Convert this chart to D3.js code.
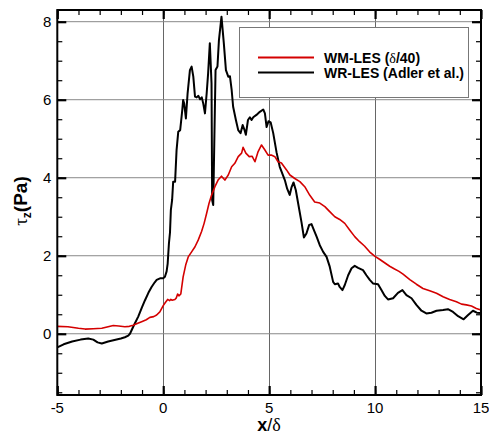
<!DOCTYPE html>
<html>
<head>
<meta charset="utf-8">
<script src="https://cdn.jsdelivr.net/npm/d3@7"></script>
<style>
  html, body { margin: 0; padding: 0; background: #fff; }
  svg { display: block; font-family: "Liberation Sans", Arial, sans-serif; }
</style>
</head>
<body>
<svg id="chart" width="489" height="434"></svg>
<script>
// Spanwise wall shear stress along the streamwise coordinate
const wmX = [-5, -4.5, -4.0, -3.69, -3.3, -2.9, -2.6, -2.36, -2.1, -1.81, -1.6, -1.42, -1.2, -1.02, -0.8, -0.63, -0.45, -0.31, -0.16, 0.0, 0.1, 0.21, 0.3, 0.36, 0.42, 0.55, 0.62, 0.68, 0.74, 0.83, 0.94, 1.06, 1.18, 1.34, 1.5, 1.65, 1.81, 1.93, 2.05, 2.16, 2.28, 2.44, 2.6, 2.75, 2.91, 3.07, 3.23, 3.38, 3.54, 3.7, 3.77, 3.9, 4.06, 4.2, 4.33, 4.48, 4.64, 4.8, 4.95, 5.1, 5.27, 5.42, 5.58, 5.82, 5.98, 6.21, 6.45, 6.68, 6.92, 7.15, 7.39, 7.63, 7.86, 8.1, 8.33, 8.57, 8.8, 9.04, 9.27, 9.5, 9.74, 9.98, 10.21, 10.45, 10.69, 10.92, 11.13, 11.32, 11.64, 11.95, 12.26, 12.58, 12.9, 13.21, 13.52, 13.84, 14.08, 14.31, 14.55, 14.78, 15.0];
const wmTau = [0.19, 0.18, 0.14, 0.12, 0.13, 0.14, 0.18, 0.21, 0.2, 0.18, 0.19, 0.22, 0.27, 0.31, 0.36, 0.42, 0.44, 0.48, 0.56, 0.72, 0.8, 0.88, 0.85, 0.88, 0.86, 0.88, 0.92, 1.02, 0.97, 1.02, 1.46, 1.76, 1.97, 2.1, 2.23, 2.4, 2.62, 2.83, 3.09, 3.34, 3.55, 3.77, 3.95, 4.04, 3.94, 4.07, 4.28, 4.37, 4.54, 4.63, 4.78, 4.63, 4.54, 4.55, 4.41, 4.67, 4.84, 4.71, 4.58, 4.58, 4.54, 4.41, 4.38, 4.2, 4.07, 3.98, 3.9, 3.77, 3.55, 3.38, 3.35, 3.26, 3.13, 3.0, 2.93, 2.83, 2.66, 2.49, 2.36, 2.25, 2.1, 1.99, 1.91, 1.82, 1.73, 1.66, 1.6, 1.53, 1.39, 1.27, 1.16, 1.1, 1.04, 0.95, 0.88, 0.82, 0.76, 0.74, 0.71, 0.65, 0.61];

const wrX = [-5, -4.7, -4.3, -3.9, -3.54, -3.3, -3.1, -2.9, -2.6, -2.3, -2.0, -1.81, -1.65, -1.57, -1.4, -1.18, -1.0, -0.86, -0.7, -0.55, -0.4, -0.31, -0.15, 0.0, 0.08, 0.16, 0.21, 0.27, 0.32, 0.36, 0.42, 0.47, 0.56, 0.63, 0.71, 0.8, 0.9, 0.94, 0.99, 1.07, 1.15, 1.26, 1.34, 1.42, 1.5, 1.58, 1.66, 1.74, 1.82, 1.89, 1.97, 2.05, 2.12, 2.2, 2.28, 2.31, 2.36, 2.41, 2.47, 2.56, 2.63, 2.75, 2.86, 2.96, 3.07, 3.15, 3.23, 3.3, 3.43, 3.54, 3.65, 3.75, 3.84, 3.9, 4.0, 4.09, 4.17, 4.25, 4.4, 4.56, 4.72, 4.8, 4.88, 4.97, 5.07, 5.19, 5.35, 5.5, 5.74, 5.85, 5.97, 6.06, 6.15, 6.26, 6.37, 6.53, 6.64, 6.76, 6.89, 7.0, 7.08, 7.24, 7.39, 7.55, 7.71, 7.86, 8.02, 8.1, 8.25, 8.33, 8.46, 8.57, 8.73, 8.89, 9.04, 9.2, 9.43, 9.59, 9.75, 9.9, 10.14, 10.3, 10.46, 10.61, 10.85, 11.08, 11.29, 11.48, 11.72, 11.95, 12.19, 12.42, 12.66, 12.9, 13.21, 13.44, 13.68, 13.92, 14.18, 14.39, 14.62, 14.8, 15.0];
const wrTau = [-0.35, -0.27, -0.2, -0.15, -0.12, -0.15, -0.22, -0.25, -0.2, -0.16, -0.12, -0.09, -0.05, 0.0, 0.2, 0.44, 0.68, 0.86, 1.05, 1.2, 1.32, 1.38, 1.42, 1.42, 1.46, 1.6, 1.8, 2.32, 2.6, 3.17, 3.43, 3.9, 3.9, 4.71, 5.18, 5.22, 5.74, 5.99, 5.9, 5.52, 6.16, 6.76, 6.85, 6.59, 6.08, 6.06, 6.1, 6.01, 6.06, 5.9, 5.65, 6.16, 6.68, 7.45, 6.42, 3.43, 3.3, 4.88, 6.76, 6.85, 7.53, 8.13, 7.45, 6.76, 6.59, 6.6, 6.25, 5.82, 5.48, 5.22, 5.14, 5.35, 5.22, 5.1, 5.48, 5.55, 5.48, 5.55, 5.61, 5.69, 5.75, 5.65, 5.3, 5.45, 5.42, 5.15, 4.65, 4.28, 3.94, 3.72, 3.56, 3.76, 3.88, 3.68, 3.34, 2.85, 2.47, 2.57, 2.79, 2.81, 2.7, 2.49, 2.27, 2.1, 1.97, 1.72, 1.33, 1.27, 1.29, 1.2, 1.12, 1.25, 1.5, 1.68, 1.74, 1.69, 1.63, 1.5, 1.38, 1.29, 1.27, 1.12, 0.97, 0.88, 0.91, 1.05, 1.12, 0.99, 0.91, 0.74, 0.59, 0.52, 0.54, 0.59, 0.61, 0.63, 0.56, 0.45, 0.37, 0.48, 0.59, 0.54, 0.53];

const xMajorTicks = [-5, 0, 5, 10, 15];
const yMajorTicks = [0, 2, 4, 6, 8];
const xGridTicks = [0, 5, 10];
const yGridTicks = [0, 2, 4, 6, 8];
const legendLabels = ["WM-LES (", "WR-LES (Adler et al.)"];

const svg = d3.select("#chart");
const plotLeft = 57.3, plotRight = 481, plotTop = 10, plotBottom = 395;
const x = d3.scaleLinear().domain([-5, 15]).range([plotLeft, plotRight]);
const y = d3.scaleLinear().domain([-1.57, 8.3]).range([plotBottom, plotTop]);

// grid lines
const grid = svg.append("g");
grid.selectAll("line.gx").data(xGridTicks).enter().append("line")
  .attr("x1", d => Math.round(x(d)) + 0.5).attr("x2", d => Math.round(x(d)) + 0.5)
  .attr("y1", plotTop).attr("y2", plotBottom)
  .attr("stroke", "#666").attr("stroke-width", 1);
grid.selectAll("line.gy").data(yGridTicks).enter().append("line")
  .attr("x1", plotLeft).attr("x2", plotRight)
  .attr("y1", d => y(d)).attr("y2", d => y(d))
  .attr("stroke", "#888").attr("stroke-width", 1);

// curves
const line = d3.line().x(d => x(d[0])).y(d => y(d[1]));
svg.append("path").datum(wrX.map((v, i) => [v, wrTau[i]]))
  .attr("d", line).attr("fill", "none").attr("stroke", "#000")
  .attr("stroke-width", 2).attr("stroke-linejoin", "round");
svg.append("path").datum(wmX.map((v, i) => [v, wmTau[i]]))
  .attr("d", line).attr("fill", "none").attr("stroke", "#d40000")
  .attr("stroke-width", 1.6).attr("stroke-linejoin", "round");

// axes on all four sides, ticks pointing inward
const xMinor = d3.range(-5, 15.01, 1);
const yMinor = d3.range(-1.5, 8.01, 0.5);
const axes = svg.append("g");
function addAxis(axisFn, scale, values, size, transform, width) {
  axes.append("g").attr("transform", transform)
    .call(axisFn(scale).tickValues(values).tickSize(size).tickFormat(""))
    .call(g => g.select(".domain").remove())
    .call(g => g.selectAll(".tick line").attr("stroke", "#000").attr("stroke-width", width));
}
addAxis(d3.axisTop, x, xMinor, 5, `translate(0,${plotBottom})`, 1.2);
addAxis(d3.axisTop, x, xMajorTicks, 9, `translate(0,${plotBottom})`, 2.2);
addAxis(d3.axisBottom, x, xMinor, 5, `translate(0,${plotTop})`, 1.2);
addAxis(d3.axisBottom, x, xMajorTicks, 9, `translate(0,${plotTop})`, 2.2);
addAxis(d3.axisRight, y, yMinor, 5, `translate(${plotLeft},0)`, 1.2);
addAxis(d3.axisRight, y, yMajorTicks, 9, `translate(${plotLeft},0)`, 2.2);
addAxis(d3.axisLeft, y, yMinor, 5, `translate(${plotRight},0)`, 1.2);
addAxis(d3.axisLeft, y, yMajorTicks, 9, `translate(${plotRight},0)`, 2.2);

// frame
svg.append("rect").attr("x", plotLeft).attr("y", plotTop)
  .attr("width", plotRight - plotLeft).attr("height", plotBottom - plotTop)
  .attr("fill", "none").attr("stroke", "#000").attr("stroke-width", 2);

// tick labels
svg.append("g").selectAll("text").data(xMajorTicks).enter().append("text")
  .attr("x", d => x(d)).attr("y", plotBottom + 18)
  .attr("text-anchor", "middle").attr("font-size", 15).text(d => d);
svg.append("g").selectAll("text").data(yMajorTicks).enter().append("text")
  .attr("x", plotLeft - 6).attr("y", d => y(d) + 5.5)
  .attr("text-anchor", "end").attr("font-size", 15).text(d => d);

// axis titles
const xt = svg.append("text").attr("x", 269).attr("y", 431)
  .attr("text-anchor", "middle").attr("font-size", 18);
xt.append("tspan").attr("font-weight", "bold").text("x");
xt.append("tspan").text("/");
xt.append("tspan").attr("font-family", "'Liberation Serif', serif").text("δ");

const yt = svg.append("text").attr("transform", "translate(27,201) rotate(-90)")
  .attr("text-anchor", "middle").attr("font-size", 19);
yt.append("tspan").attr("font-family", "'Liberation Serif', serif").text("τ");
yt.append("tspan").attr("font-size", 12).attr("dy", 4).attr("font-weight", "bold").text("z");
yt.append("tspan").attr("dy", -4).attr("font-weight", "bold").text("(Pa)");

// legend
const lg = svg.append("g");
lg.append("rect").attr("x", 239.5).attr("y", 27.5).attr("width", 229).attr("height", 70)
  .attr("fill", "#fff").attr("stroke", "#777").attr("stroke-width", 1);
lg.append("line").attr("x1", 258).attr("x2", 314).attr("y1", 57.5).attr("y2", 57.5)
  .attr("stroke", "#d40000").attr("stroke-width", 2);
lg.append("line").attr("x1", 258).attr("x2", 314).attr("y1", 72.5).attr("y2", 72.5)
  .attr("stroke", "#000").attr("stroke-width", 2);
const t1 = lg.append("text").attr("x", 324).attr("y", 62.5).attr("font-size", 14).attr("font-weight", "bold");
t1.append("tspan").text(legendLabels[0]);
t1.append("tspan").attr("font-weight", "normal").attr("font-family", "'Liberation Serif', serif").text("δ");
t1.append("tspan").text("/40)");
lg.append("text").attr("x", 324).attr("y", 77.5).attr("font-size", 14).attr("font-weight", "bold")
  .text(legendLabels[1]);
</script>
</body>
</html>
